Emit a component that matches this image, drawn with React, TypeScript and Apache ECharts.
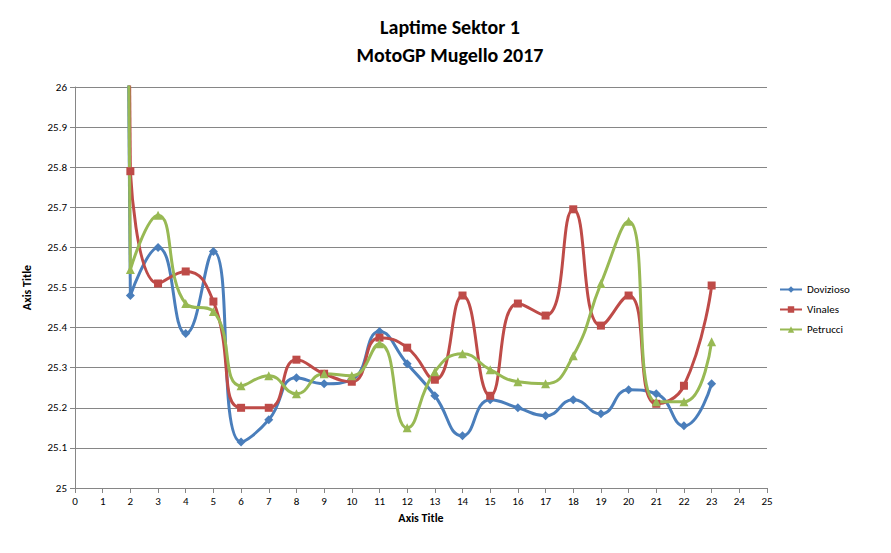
import { useEffect, useRef } from "react";
import * as echarts from "echarts";

const laps = [2, 3, 4, 5, 6, 7, 8, 9, 10, 11, 12, 13, 14, 15, 16, 17, 18, 19, 20, 21, 22, 23];
const firstLap = 1;
const firstLapTimes = [34, 34, 34]; // off the chart, clipped
const dovizioso = [25.48, 25.6, 25.385, 25.59, 25.115, 25.17, 25.275, 25.26, 25.27, 25.39, 25.31, 25.23, 25.13, 25.22, 25.2, 25.18, 25.22, 25.185, 25.245, 25.235, 25.155, 25.26];
const vinales = [25.79, 25.51, 25.54, 25.465, 25.2, 25.2, 25.32, 25.285, 25.265, 25.375, 25.35, 25.27, 25.48, 25.23, 25.46, 25.43, 25.695, 25.405, 25.48, 25.21, 25.255, 25.505];
const petrucci = [25.545, 25.68, 25.46, 25.44, 25.255, 25.28, 25.235, 25.285, 25.28, 25.36, 25.15, 25.29, 25.335, 25.295, 25.265, 25.26, 25.33, 25.51, 25.665, 25.215, 25.215, 25.365];

const riders = [
  { name: "Dovizioso", values: dovizioso, color: "#4a7ebb", symbol: "diamond", size: 9 },
  { name: "Vinales", values: vinales, color: "#be4b48", symbol: "rect", size: 8 },
  { name: "Petrucci", values: petrucci, color: "#98b954", symbol: "triangle", size: 9 },
];

const App = () => {
  const chartRef = useRef<HTMLDivElement>(null);

  useEffect(() => {
    if (!chartRef.current) return;
    const chart = echarts.init(chartRef.current, undefined, { renderer: "svg" });
    const font = "Calibri, Carlito, 'Liberation Sans', Arial, sans-serif";

    const series: any[] = [];
    riders.forEach((r, i) => {
      series.push({
        name: r.name,
        type: "line",
        smooth: 0.5,
        data: laps.map((x, j) => [x, r.values[j]]),
        symbol: r.symbol,
        symbolSize: r.size,
        itemStyle: { color: r.color },
        lineStyle: { color: r.color, width: 3 },
        clip: true,
      });
      series.push({
        type: "line",
        data: [[firstLap, firstLapTimes[i]], [laps[0], r.values[0]]],
        showSymbol: false,
        symbol: "none",
        lineStyle: { color: r.color, width: 3 },
        clip: true,
        silent: true,
      });
    });

    chart.setOption({
      animation: false,
      backgroundColor: "#fff",
      textStyle: { fontFamily: font },
      title: {
        text: "Laptime Sektor 1\nMotoGP Mugello 2017",
        left: 437,
        textAlign: "center",
        top: 0,
        textStyle: { fontSize: 20, fontWeight: "bold", color: "#000", lineHeight: 28, fontFamily: font },
      },
      legend: {
        data: riders.map((r) => r.name),
        orient: "vertical",
        left: 766,
        top: 271,
        itemGap: 9,
        itemWidth: 22,
        itemHeight: 8,
        textStyle: { fontSize: 11, color: "#000" },
      },
      grid: { left: 67, right: 116, top: 79, bottom: 57 },
      xAxis: {
        type: "value",
        min: 0,
        max: 25,
        interval: 1,
        name: "Axis Title",
        nameLocation: "middle",
        nameGap: 20,
        nameTextStyle: { fontWeight: "bold", fontSize: 12, color: "#000" },
        axisLine: { lineStyle: { color: "#868686" } },
        axisTick: { show: true, lineStyle: { color: "#868686" } },
        axisLabel: { color: "#000", fontSize: 11 },
        splitLine: { show: false },
      },
      yAxis: {
        type: "value",
        min: 25,
        max: 26,
        interval: 0.1,
        name: "Axis Title",
        nameLocation: "middle",
        nameGap: 42,
        nameTextStyle: { fontWeight: "bold", fontSize: 12, color: "#000" },
        axisLine: { show: true, lineStyle: { color: "#868686" } },
        axisTick: { show: true, lineStyle: { color: "#868686" } },
        axisLabel: { color: "#000", fontSize: 11, formatter: (v: number) => String(+v.toFixed(1)) },
        splitLine: { lineStyle: { color: "#868686" } },
      },
      series,
    });

    return () => chart.dispose();
  }, []);

  return <div ref={chartRef} style={{ width: 875, height: 537 }} />;
};

export default App;
